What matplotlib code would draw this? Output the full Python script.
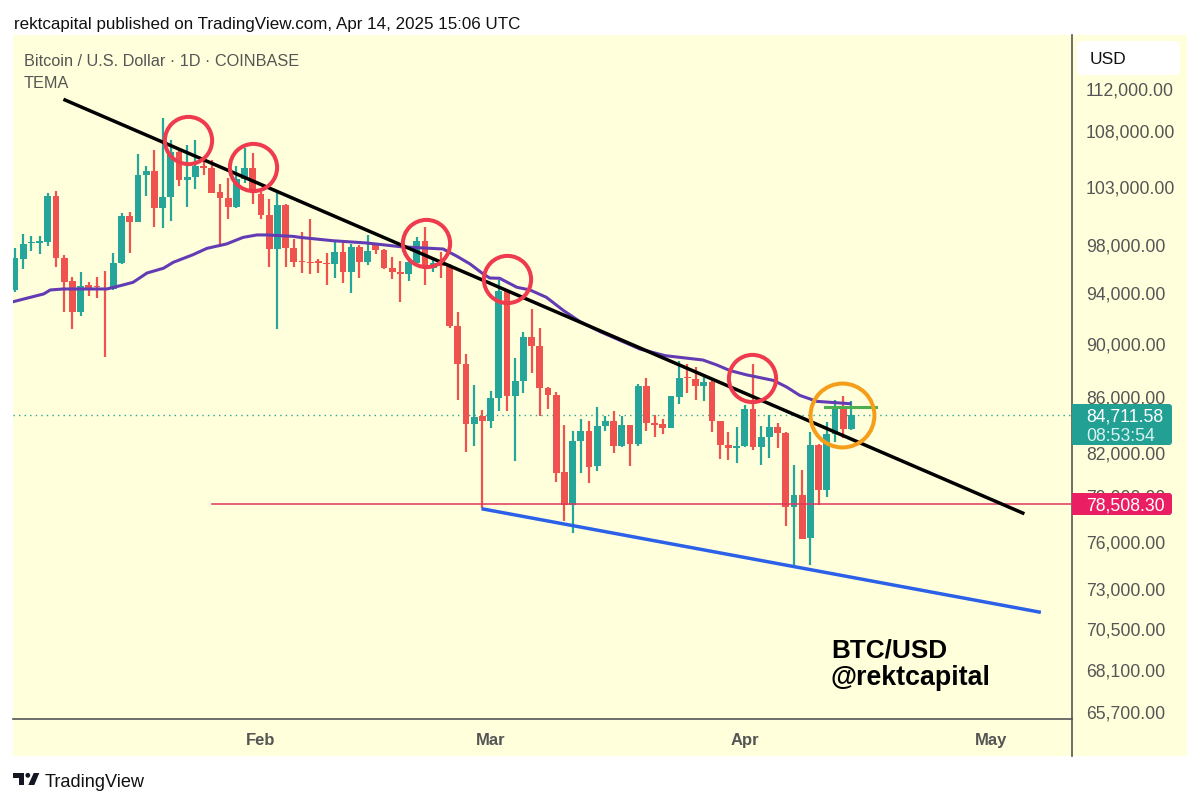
import matplotlib
matplotlib.use('Agg')
import matplotlib.pyplot as plt
from matplotlib.patches import Rectangle, Polygon, Circle, FancyBboxPatch
from matplotlib.lines import Line2D
from matplotlib.transforms import Affine2D
import numpy as np

plt.rcParams['font.family'] = ['Liberation Sans', 'DejaVu Sans']

# Daily BTC/USD candles, 2 Jan 2025 to 14 Apr 2025
first_day = -30  # days relative to 1 Feb 2025
opens = [94320,96850,98220,98220,98300,102250,96940,95020,92530,94720,94610,94480,94400,96520,100490,99970,104080,104430,101180,102110,106180,103660,103870,104850,104670,102540,
         102050,101230,103720,104700,102400,100600,97660,101440,97770,96660,96630,96660,96520,96470,97440,95780,97830,96580,98020,97580,96080,95750,95620,96550,98330,96110,
         96660,96300,91480,88550,84090,84650,84290,85990,94210,86160,87220,90600,89880,86730,86210,80690,78480,82900,83620,81100,83930,84330,82530,84000,82640,86850,
         84140,84070,83810,86090,87520,87370,86880,87200,84330,82600,82410,82500,85180,82480,83140,83850,83470,78350,79130,76250,82570,79500,83380,85330,83710]
highs = [97740,98950,98750,98810,102480,102690,97210,95350,95810,94940,95400,95890,97330,100740,100860,105930,104910,106300,109280,107270,106420,106810,107210,105360,105420,103250,
         103780,104850,106480,106060,102540,101960,102540,101520,98530,99150,100230,96850,97330,98300,98470,98110,98020,98890,98020,97690,97050,96720,96800,98720,99520,96850,
         97410,96440,92530,89290,86970,85130,86480,95130,94340,88960,90960,92800,91270,86830,86450,84020,83570,84460,84290,85300,84700,85060,84700,84000,87020,87470,
         84770,84460,86110,88780,88530,88270,87770,87450,84330,83500,83900,85500,88530,83930,84740,84170,83540,81220,80850,83540,82670,84260,85860,86110,85790]
lows = [94180,96030,97550,97270,97910,96170,92530,91220,92210,93810,93700,89030,94340,96410,97330,99940,102250,99570,99460,100090,103070,101230,102810,104110,102480,97830,
        100230,101210,103370,101520,100230,96220,91220,96170,96220,95700,95650,95700,94750,95260,94860,94080,95260,96360,97270,96060,95210,93380,95070,96520,94750,95810,
        95260,91320,85840,82130,82550,78260,83810,85010,85010,81500,86360,87820,84650,85180,80000,77390,76580,80620,79930,80800,83620,82010,82430,81150,82550,83620,
        83140,83380,83780,85550,86330,85860,85790,83540,81610,81570,81310,82430,82270,81220,81660,82380,77080,74490,76210,74550,78460,78980,82780,83070,83660]
closes = [96910,98110,98300,98330,102250,96940,94990,92530,94670,94450,94530,94400,96550,100520,99970,104080,104430,101180,102110,106180,103660,103870,104850,104730,102510,102050,
          101230,103720,104700,102540,100600,97660,101440,97770,96580,96580,96550,96550,96440,97440,95780,97830,96610,97490,97630,96080,95750,95650,96580,98330,96170,96520,
          96300,91430,88530,84090,84580,84290,85990,94240,86160,87220,90600,89930,86750,86210,80640,78480,82900,83620,81080,83930,84330,82530,84000,82670,86850,84140,
          84050,83810,86110,87470,87450,86900,87200,84330,82600,82380,82500,85180,82430,83140,83850,83470,78350,79130,76210,82570,79500,83380,85330,83710,84711.58]

tema_days = [-30.2,-28.6,-26.5,-25.7,-24.1,-18.8,-17.2,-15.6,-13.9,-11.9,-10.7,-8.3,-6.6,-4.2,-2.2,-0.5,0.7,3.9,4.8,8.8,12.9,17.0,19.0,22.2,23.9,25.5,27.1,27.9,29.1,31.2,32.8,34.8,36.9,38.9,41.3,46.2,49.3,53.9,55.6,57.2,59.2,62.5,64.1,65.7,67.8,71.8]
tema_vals = [93380,93650,94000,94320,94400,94400,94660,94940,95700,96090,96580,97210,97740,98110,98660,98870,98870,98750,98660,98380,98190,97880,97800,97690,97080,96440,95620,95290,95270,94540,94320,93730,92670,91800,91030,89670,89160,88830,88450,88030,87710,87290,86800,86180,85740,85570]

black_days, black_vals = [-23.9, 92.9], [110980, 77920]
blue_days, blue_vals = [27.1, 94.9], [78190, 71590]
green_days, green_vals = [68.8, 75.0], [85330, 85330]
support_level = 78508.30
last_price = 84711.58
red_circle_days = [-8.9, -1.0, 20.1, 30.0, 59.9]
red_circle_vals = [107240, 104790, 98190, 95210, 87470]
orange_circle_days = [70.9]
orange_circle_vals = [84740]

y_ticks = [112000,108000,103000,98000,94000,90000,86000,82000,79000,76000,73000,70500,68100,65700]
x_tick_days = [0, 28, 59, 89]
x_tick_labels = ['Feb', 'Mar', 'Apr', 'May']

TEAL, RED = '#26A69A', '#EF5350'
GREY = '#555555'
W, H = 1200, 804
fig = plt.figure(figsize=(W/100, H/100), dpi=100, facecolor='white')
px = Affine2D().scale(1/W, -1/H).translate(0, 1) + fig.transFigure

def ptext(x, y, s, **kw):
    kw.setdefault('va', 'center')
    return fig.text(x/W, 1-y/H, s, **kw)

fig.add_artist(Rectangle((13, 36), 1174, 721, transform=px, facecolor='#FFFFDC', edgecolor='none', zorder=-5))

ax = fig.add_axes([13/W, 1-720/H, 1059/W, 684/H], facecolor='none')
ax.set_yscale('log')
ax.set_xlim((13-261)/8.2, (1072-261)/8.2)
ax.set_ylim(112000*np.exp(-(720-90.3)/1168), 112000*np.exp(-(36-90.3)/1168))

days = first_day + np.arange(len(opens))
o, h, l, c = map(np.array, (opens, highs, lows, closes))
colors = np.where(c >= o, TEAL, RED)
ax.vlines(days, l, h, colors=colors, lw=1.6, zorder=3)
ax.bar(days, np.abs(c-o), bottom=np.minimum(o, c), width=0.84, color=colors, linewidth=0, zorder=3)

ax.axhline(last_price, color=TEAL, lw=1, ls=(0, (1, 3)), zorder=2)
ax.plot([(212-261)/8.2, (1072-261)/8.2], [support_level]*2, color='#E0365F', lw=1.1, zorder=4)
ax.plot(tema_days, tema_vals, color='#633CB4', lw=2.2, zorder=4, solid_joinstyle='round')
ax.plot(black_days, black_vals, color='black', lw=2.5, zorder=5)
ax.plot(blue_days, blue_vals, color='#2B60E8', lw=2.5, zorder=5)
ax.plot(green_days, green_vals, color='#4CAF50', lw=2.2, zorder=6)
ax.plot(red_circle_days, red_circle_vals, ls='none', marker='o', ms=34, mfc='none', mec='#EE3B4E', mew=2.9, zorder=7)
ax.plot(orange_circle_days, orange_circle_vals, ls='none', marker='o', ms=46, mfc='none', mec='#F59E1B', mew=2.9, zorder=7)

for s in ('top', 'left'):
    ax.spines[s].set_visible(False)
for s in ('bottom', 'right'):
    ax.spines[s].set_color(GREY)
    ax.spines[s].set_linewidth(1.2)
ax.yaxis.tick_right()
ax.set_yticks(y_ticks)
ax.set_yticklabels([f'{t:,.2f}' for t in y_ticks], color=GREY, fontsize=12.7)
ax.minorticks_off()
ax.tick_params(axis='y', length=0, pad=10)
ax.set_xticks(x_tick_days)
ax.set_xticklabels(x_tick_labels, color=GREY, fontsize=12, fontweight='bold')
ax.tick_params(axis='x', length=0, pad=9.7)
for tick in ax.yaxis.get_major_ticks():
    tick.label2.set_transform(tick.label2.get_transform() + Affine2D().translate(0, 1.6))

fig.add_artist(Line2D([1072, 1072], [720, 757], transform=px, color=GREY, lw=1.2))

def box(x0, y0, x1, y1, color, square_left=True, r=3):
    fig.add_artist(FancyBboxPatch((x0+r, y0+r), x1-x0-2*r, y1-y0-2*r,
                                  boxstyle=f'round,pad={r},rounding_size={r}',
                                  transform=px, facecolor=color, edgecolor='none', zorder=5))
    if square_left:
        fig.add_artist(Rectangle((x0, y0), 2*r, y1-y0, transform=px, facecolor=color, edgecolor='none', zorder=5))

box(1072, 405, 1172, 446, '#22A094')
box(1072, 494, 1172, 516, '#E91E63')
box(1077, 42, 1180, 76, 'white', square_left=False, r=5)
ptext(1086, 417.5, '84,711.58', color='white', fontsize=12.7, zorder=6)
ptext(1086, 436.5, '08:53:54', color='#D5F2EE', fontsize=12.7, zorder=6)
ptext(1086, 506, '78,508.30', color='white', fontsize=12.7, zorder=6)
ptext(1090, 59, 'USD', color='#111111', fontsize=12.5, zorder=6)

ptext(14, 25, 'rektcapital published on TradingView.com, Apr 14, 2025 15:06 UTC', color='#111111', fontsize=12.25)
ptext(24, 61.5, 'Bitcoin / U.S. Dollar · 1D · COINBASE', color=GREY, fontsize=11.7)
ptext(24, 84, 'TEMA', color=GREY, fontsize=11.7)
ptext(831, 650, 'BTC/USD', color='black', fontsize=18.8, fontweight='bold', zorder=6)
ptext(831, 678, '@rektcapital', color='black', fontsize=19.3, fontweight='bold', zorder=6)
ptext(45, 782.5, 'TradingView', color='#111111', fontsize=13.1)

# TradingView logo
fig.add_artist(Polygon([(13, 774), (24, 774), (24, 786), (18.7, 786), (18.7, 778.7), (13, 778.7)], transform=px, facecolor='#131722', edgecolor='none'))
fig.add_artist(Circle((27.8, 776.3), 2.4, transform=px, facecolor='#131722', edgecolor='none'))
fig.add_artist(Polygon([(33.7, 774), (39.3, 774), (34.3, 786), (28.3, 786)], transform=px, facecolor='#131722', edgecolor='none'))

fig.savefig('out.png', dpi=100)
